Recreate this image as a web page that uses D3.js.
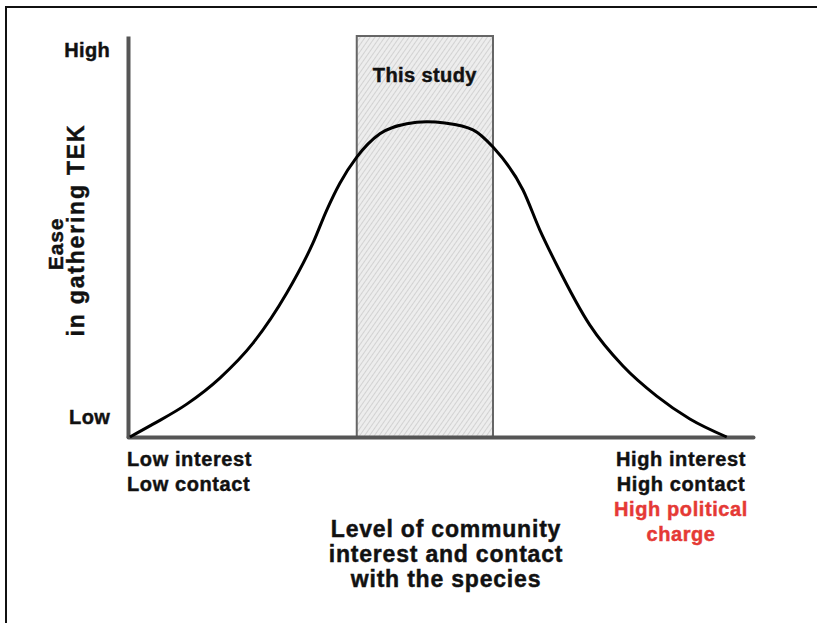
<!DOCTYPE html>
<html>
<head>
<meta charset="utf-8">
<script src="https://cdn.jsdelivr.net/npm/d3@7"></script>
<style>
  body { margin: 0; background: #fff; }
  text { font-family: "Liberation Sans", Arial, sans-serif; font-weight: bold; }
</style>
</head>
<body>
<svg id="chart"></svg>
<script>
// curve, x = interest/contact (0-100), y = ease (0-100)
var curveX = [0.3, 4.0, 9.4, 14.7, 20.0, 25.4, 29.6, 31.8, 33.9, 36.6, 40.3, 44.6, 47.8, 50.7, 55.2, 58.4, 63.2, 65.9, 68.6, 73.9, 79.2, 84.6, 89.9, 95.8];
var curveY = [0, 3.2, 8.2, 14.7, 23.4, 35.9, 48.4, 56.6, 63.3, 69.8, 75.6, 78.1, 78.6, 78.3, 76.6, 72.3, 61.6, 51.6, 42.9, 27.9, 17.7, 10.2, 4.5, 0];
var studyBand = [36.6, 58.4];
var yTickValues = [5, 96.5];
var yTickLabels = ["Low", "High"];
var leftLabels = ["Low interest", "Low contact"];
var rightLabels = ["High interest", "High contact"];
var rightRed = ["High political", "charge"];
var xTitle = ["Level of community", "interest and contact", "with the species"];
var yTitle = ["Ease", "in gathering TEK"];

var screen = {width: 817, height: 623};
var svg = d3.select('#chart')
  .attr('width', screen.width)
  .attr('height', screen.height);

var xScale = d3.scaleLinear().domain([0, 100]).range([128, 753]);
var yScale = d3.scaleLinear().domain([0, 100]).range([437, 36]);

//frame (only left and top show)
svg.append('path')
  .attr('d', 'M6,623V7H817')
  .attr('fill', 'none')
  .attr('stroke', '#111')
  .attr('stroke-width', 2);

//hatch pattern
var defs = svg.append('defs');
var pat = defs.append('pattern')
  .attr('id', 'hatch')
  .attr('patternUnits', 'userSpaceOnUse')
  .attr('width', 4).attr('height', 4)
  .attr('patternTransform', 'rotate(35)');
pat.append('rect').attr('width', 4).attr('height', 4).attr('fill', '#ededed');
pat.append('line').attr('x1', 0).attr('y1', 0).attr('x2', 0).attr('y2', 4)
  .attr('stroke', '#c9c9c9').attr('stroke-width', 1.5);

svg.append('rect')
  .attr('x', xScale(studyBand[0]))
  .attr('y', yScale(100))
  .attr('width', xScale(studyBand[1]) - xScale(studyBand[0]))
  .attr('height', yScale(0) - yScale(100))
  .attr('fill', 'url(#hatch)')
  .attr('stroke', '#666')
  .attr('stroke-width', 2);

// bold text helper, the source lettering is heavy and a bit spaced out
var heavy = function(sel, size, spacing)
{
  sel.attr('font-size', size)
     .style('letter-spacing', spacing + 'px')
     .attr('stroke-width', 0.45)
     .attr('paint-order', 'stroke');
  return sel;
};

svg.append('text')
  .attr('x', (xScale(studyBand[0]) + xScale(studyBand[1])) / 2)
  .attr('y', 82)
  .attr('text-anchor', 'middle')
  .attr('fill', '#111').attr('stroke', '#111')
  .text('This study')
  .call(heavy, 20, 0.4);

//axes
var yAxis = d3.axisLeft(yScale)
  .tickValues(yTickValues)
  .tickFormat(function(d, i){ return yTickLabels[i]; })
  .tickSize(0)
  .tickPadding(18);
var yG = svg.append('g').attr('transform', 'translate(' + xScale(0) + ',0)').call(yAxis);
yG.select('.domain').attr('stroke', '#555').attr('stroke-width', 4);
yG.selectAll('text')
  .attr('fill', '#111').attr('stroke', '#111')
  .style('font-family', '"Liberation Sans", Arial, sans-serif')
  .style('font-weight', 'bold')
  .call(heavy, 20, 0.3);

var xAxis = d3.axisBottom(xScale).tickValues([]).tickSizeOuter(0);
var xG = svg.append('g').attr('transform', 'translate(0,' + yScale(0) + ')').call(xAxis);
xG.select('.domain').attr('stroke', '#555').attr('stroke-width', 4).attr('stroke-linecap', 'round');

//the curve
var points = curveX.map(function(d, i){ return {x: d, y: curveY[i]}; });
var drawLine = d3.line()
  .x(function(d){ return xScale(d.x); })
  .y(function(d){ return yScale(d.y); })
  .curve(d3.curveMonotoneX);
svg.append('path')
  .datum(points)
  .attr('d', drawLine)
  .attr('fill', 'none')
  .attr('stroke', '#000')
  .attr('stroke-width', 3);

//labels under the x axis
svg.selectAll('.leftLab')
  .data(leftLabels)
  .enter().append('text')
  .attr('x', 127)
  .attr('y', function(d, i){ return 466 + i * 25; })
  .attr('fill', '#111').attr('stroke', '#111')
  .text(function(d){ return d; })
  .call(heavy, 20, 0.6);

svg.selectAll('.rightLab')
  .data(rightLabels.concat(rightRed))
  .enter().append('text')
  .attr('x', 681)
  .attr('y', function(d, i){ return 466 + i * 25; })
  .attr('text-anchor', 'middle')
  .attr('fill', function(d, i){ return i < 2 ? '#111' : '#e53935'; })
  .attr('stroke', function(d, i){ return i < 2 ? '#111' : '#e53935'; })
  .text(function(d){ return d; })
  .call(heavy, 20, 0.6);

svg.selectAll('.xTitle')
  .data(xTitle)
  .enter().append('text')
  .attr('x', 446)
  .attr('y', function(d, i){ return 537 + i * 25; })
  .attr('text-anchor', 'middle')
  .attr('fill', '#111').attr('stroke', '#111')
  .text(function(d){ return d; })
  .call(heavy, 23, 0.8);

svg.selectAll('.yTitle')
  .data(yTitle)
  .enter().append('text')
  .attr('transform', function(d, i){ return 'translate(' + (63 + i * 21) + ',' + (i == 0 ? 244 : 230) + ') rotate(-90)'; })
  .attr('text-anchor', 'middle')
  .attr('fill', '#111').attr('stroke', '#111')
  .text(function(d){ return d; })
  .each(function(d, i){ heavy(d3.select(this), i == 0 ? 21 : 23, i == 0 ? 0.8 : 1.8); });
</script>
</body>
</html>
